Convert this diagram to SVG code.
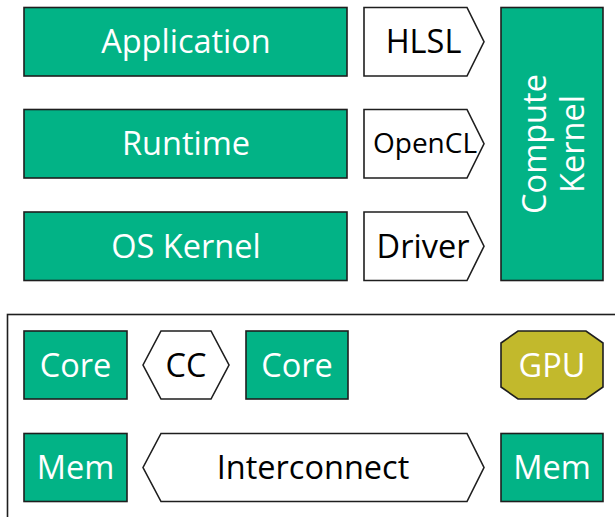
<svg xmlns="http://www.w3.org/2000/svg" width="615" height="517" viewBox="0 0 615 517">
<style>
.g{fill:#02b386;stroke:#1e1e1e;stroke-width:1.6}
.w{fill:#ffffff;stroke:#1e1e1e;stroke-width:1.6}
.o{fill:#c2b92c;stroke:#1e1e1e;stroke-width:1.6}
text{font-family:"Open Sans","DejaVu Sans",sans-serif;font-size:32.5px;text-anchor:middle;dominant-baseline:central}
.lt{fill:#ffffff}
.dk{fill:#000000}
</style>
<rect width="615" height="517" fill="#ffffff"/>
<g id="platform"><rect x="7.5" y="314.5" width="700" height="300" fill="none" stroke="#1e1e1e" stroke-width="1.6"/></g>
<g id="application"><rect class="g" x="24" y="7.5" width="323" height="68.5"/><text class="lt" x="186" y="40">Application</text></g>
<g id="runtime"><rect class="g" x="24" y="109.5" width="323" height="68.5"/><text class="lt" x="186" y="142">Runtime</text></g>
<g id="oskernel"><rect class="g" x="24" y="212" width="323" height="68.5"/><text class="lt" x="186" y="245">OS Kernel</text></g>
<g id="hlsl"><polygon class="w" points="364,7.5 467,7.5 484,41.75 467,76 364,76"/><text class="dk" x="423.5" y="40">HLSL</text></g>
<g id="opencl"><polygon class="w" points="364,109.5 467,109.5 484,143.75 467,178 364,178"/><text class="dk" x="425" y="142" style="font-size:28px">OpenCL</text></g>
<g id="driver"><polygon class="w" points="364,212 467,212 484,246.25 467,280.5 364,280.5"/><text class="dk" x="423" y="245">Driver</text></g>
<g id="computekernel"><rect class="g" x="501" y="7.5" width="102" height="273"/><text class="lt" transform="translate(533,144) rotate(-90)">Compute</text><text class="lt" transform="translate(571,144) rotate(-90)">Kernel</text></g>
<g id="core1"><rect class="g" x="24" y="331" width="103" height="68"/><text class="lt" x="75.5" y="364">Core</text></g>
<g id="cc"><polygon class="w" points="143,365 161,331 211,331 229,365 211,399 161,399"/><text class="dk" x="186" y="364">CC</text></g>
<g id="core2"><rect class="g" x="246" y="331" width="102" height="68"/><text class="lt" x="297" y="364">Core</text></g>
<g id="gpu"><polygon class="o" points="518,331 586,331 603,343 603,387 586,399 518,399 501,387 501,343"/><text class="lt" x="552" y="364">GPU</text></g>
<g id="mem1"><rect class="g" x="24" y="433.5" width="103" height="68"/><text class="lt" x="75.5" y="466">Mem</text></g>
<g id="interconnect"><polygon class="w" points="143,467.5 161,433.5 467,433.5 484,467.5 467,501.5 161,501.5"/><text class="dk" x="313" y="466">Interconnect</text></g>
<g id="mem2"><rect class="g" x="501" y="433.5" width="102" height="68"/><text class="lt" x="552" y="466">Mem</text></g>
<g id="connectors"></g>
</svg>
